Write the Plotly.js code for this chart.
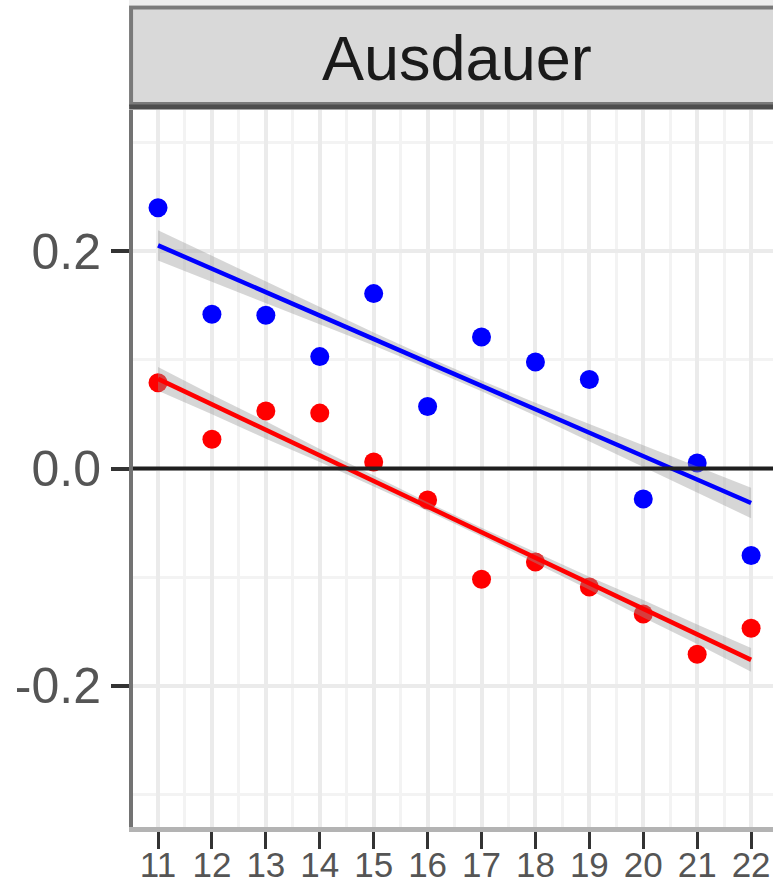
<!DOCTYPE html>
<html>
<head>
<meta charset="utf-8">
<script src="https://cdn.plot.ly/plotly-3.0.1.min.js"></script>
<style>
  html, body { margin: 0; padding: 0; background: #ffffff; overflow: hidden; }
  #chart { width: 790px; height: 885px; }
</style>
</head>
<body>
<div id="chart"></div>
<script>
// ---- data ----
const panelTitle = "Ausdauer";
const xValues = [11, 12, 13, 14, 15, 16, 17, 18, 19, 20, 21, 22];
const blueValues = [0.240, 0.142, 0.141, 0.103, 0.161, 0.057, 0.121, 0.098, 0.082, -0.028, 0.005, -0.080];
const redValues  = [0.079, 0.027, 0.053, 0.051, 0.006, -0.029, -0.102, -0.086, -0.109, -0.134, -0.171, -0.147];
// half-widths of the grey confidence ribbons, read at each x
const blueBand = [0.014, 0.012, 0.010, 0.008, 0.006, 0.005, 0.005, 0.006, 0.008, 0.010, 0.012, 0.014];
const redBand  = [0.011, 0.009, 0.008, 0.006, 0.005, 0.004, 0.004, 0.005, 0.006, 0.008, 0.009, 0.011];
const xTickVals = [11, 12, 13, 14, 15, 16, 17, 18, 19, 20, 21, 22];
const xTickText = ["11", "12", "13", "14", "15", "16", "17", "18", "19", "20", "21", "22"];
const yTickVals = [-0.2, 0.0, 0.2];
const yTickText = ["-0.2", "0.0", "0.2"];

// least-squares linear fit (geom_smooth(method = "lm"))
function linFit(xs, ys) {
  const n = xs.length;
  const mx = xs.reduce((a, b) => a + b, 0) / n;
  const my = ys.reduce((a, b) => a + b, 0) / n;
  let sxy = 0, sxx = 0;
  for (let i = 0; i < n; i++) { sxy += (xs[i] - mx) * (ys[i] - my); sxx += (xs[i] - mx) ** 2; }
  const b = sxy / sxx, a = my - b * mx;
  return xs.map(x => a + b * x);
}
const blueFit = linFit(xValues, blueValues);
const redFit = linFit(xValues, redValues);

const bandFill = "rgba(153,153,153,0.4)";
function ribbon(fit, band) {
  return [
    { x: xValues, y: fit.map((v, i) => v + band[i]), mode: "lines", line: { width: 0 }, hoverinfo: "skip", showlegend: false },
    { x: xValues, y: fit.map((v, i) => v - band[i]), mode: "lines", line: { width: 0 }, fill: "tonexty", fillcolor: bandFill, hoverinfo: "skip", showlegend: false }
  ];
}

const traces = [
  { x: xValues, y: blueValues, mode: "markers", marker: { color: "#0000ff", size: 19 }, showlegend: false },
  { x: xValues, y: redValues, mode: "markers", marker: { color: "#ff0000", size: 19 }, showlegend: false },
  ...ribbon(blueFit, blueBand),
  ...ribbon(redFit, redBand),
  { x: xValues, y: blueFit, mode: "lines", line: { color: "#0000ff", width: 4.5 }, showlegend: false },
  { x: xValues, y: redFit, mode: "lines", line: { color: "#ff0000", width: 4.5 }, showlegend: false }
];

const plotH = 885 - 110 - 58;
const pxToPaperY = py => 1 + (110 - py) / plotH;

const layout = {
  width: 790, height: 885,
  margin: { l: 133, r: 10, t: 110, b: 58 },
  paper_bgcolor: "#ffffff", plot_bgcolor: "#ffffff",
  showlegend: false,
  font: { family: "Liberation Sans, Arial, sans-serif", color: "#4d4d4d" },
  xaxis: {
    range: [10.536, 22.536],
    tickmode: "array", tickvals: xTickVals, ticktext: xTickText,
    ticks: "outside", ticklen: 17, tickwidth: 3, tickcolor: "#333333",
    tickfont: { size: 35, color: "#555555" },
    ticklabelstandoff: -14,
    showgrid: true, gridcolor: "#ebebeb", gridwidth: 4,
    minor: { tickmode: "linear", tick0: 10.5, dtick: 1, showgrid: true, gridcolor: "#f3f3f3", gridwidth: 3, ticks: "" },
    showline: true, linecolor: "#b3b3b3", linewidth: 5,
    zeroline: false, fixedrange: true
  },
  yaxis: {
    range: [-0.33, 0.33],
    tickmode: "array", tickvals: yTickVals, ticktext: yTickText,
    ticks: "outside", ticklen: 18, tickwidth: 4, tickcolor: "#333333",
    tickfont: { size: 50, color: "#555555" },
    showgrid: true, gridcolor: "#ebebeb", gridwidth: 4,
    minor: { tickmode: "linear", tick0: 0.1, dtick: 0.2, showgrid: true, gridcolor: "#f3f3f3", gridwidth: 3, ticks: "" },
    showline: true, linecolor: "#737373", linewidth: 4,
    zeroline: false, fixedrange: true
  },
  shapes: [
    // light band above strip
    { type: "rect", xref: "paper", yref: "paper", x0: -0.006, x1: 1.02, y0: pxToPaperY(5), y1: pxToPaperY(0), fillcolor: "#ececec", line: { width: 0 }, layer: "above" },
    // facet strip
    { type: "rect", xref: "paper", yref: "paper", x0: -0.003, x1: 1.01, y0: pxToPaperY(104), y1: pxToPaperY(7.5), fillcolor: "#d9d9d9", line: { color: "#7a7a7a", width: 4 }, layer: "above" },
    { type: "line", xref: "paper", yref: "paper", x0: -0.006, x1: 1.02, y0: pxToPaperY(107), y1: pxToPaperY(107), line: { color: "#4d4d4d", width: 5 }, layer: "above" },
    // horizontal reference line at zero
    { type: "line", xref: "paper", yref: "y", x0: 0, x1: 1, y0: 0, y1: 0, line: { color: "#1f1f1f", width: 4 }, layer: "above" }
  ],
  annotations: [
    { text: panelTitle, xref: "paper", yref: "paper", x: 0.5, y: pxToPaperY(58), xanchor: "center", yanchor: "middle",
      showarrow: false, font: { size: 63, color: "#1a1a1a", family: "Liberation Sans, Arial, sans-serif" } }
  ]
};

Plotly.newPlot("chart", traces, layout, { displayModeBar: false, staticPlot: true });
</script>
</body>
</html>
